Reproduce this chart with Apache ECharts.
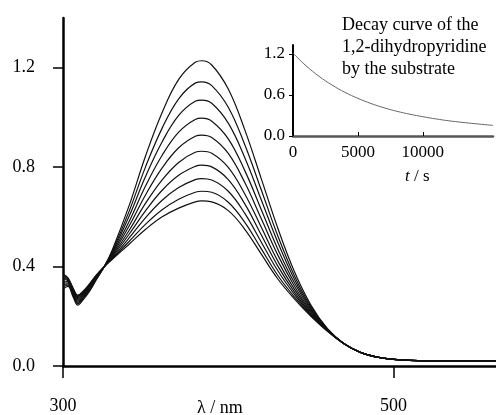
<!DOCTYPE html>
<html>
<head>
<meta charset="utf-8">
<script src="https://cdn.jsdelivr.net/npm/echarts@6/dist/echarts.min.js"></script>
<style>
  html, body { margin: 0; padding: 0; background: #fff; }
  #chart { width: 496px; height: 415px; }
</style>
</head>
<body>
<div id="chart"></div>
<script>
// wavelength grid (nm) shared by all scans
const wavelengths = [300, 303, 306, 309, 312, 316, 320, 325, 330, 340, 350, 360, 370, 380, 384, 390, 400, 410, 420, 430, 440, 450, 460, 470, 480, 490, 500, 520, 540, 562];

// absorbance of each scan, first (highest) to last
const scan1 = [0.31, 0.32, 0.28, 0.245, 0.265, 0.30, 0.345, 0.40, 0.47, 0.645, 0.846, 1.02, 1.153, 1.222, 1.228, 1.211, 1.114, 0.95, 0.753, 0.554, 0.38, 0.245, 0.15, 0.09, 0.055, 0.036, 0.027, 0.021, 0.02, 0.02];
const scan2 = [0.319, 0.325, 0.285, 0.251, 0.27, 0.305, 0.348, 0.40, 0.464, 0.622, 0.802, 0.957, 1.075, 1.138, 1.143, 1.128, 1.041, 0.89, 0.708, 0.523, 0.363, 0.238, 0.149, 0.09, 0.055, 0.036, 0.027, 0.021, 0.02, 0.02];
const scan3 = [0.327, 0.33, 0.29, 0.256, 0.275, 0.308, 0.351, 0.40, 0.459, 0.602, 0.763, 0.902, 1.008, 1.065, 1.07, 1.057, 0.977, 0.838, 0.668, 0.497, 0.349, 0.232, 0.147, 0.09, 0.055, 0.036, 0.027, 0.021, 0.02, 0.02];
const scan4 = [0.335, 0.334, 0.294, 0.261, 0.279, 0.312, 0.353, 0.40, 0.454, 0.581, 0.725, 0.848, 0.941, 0.992, 0.997, 0.985, 0.914, 0.786, 0.629, 0.47, 0.335, 0.227, 0.146, 0.09, 0.055, 0.036, 0.027, 0.021, 0.02, 0.02];
const scan5 = [0.342, 0.339, 0.299, 0.266, 0.284, 0.316, 0.356, 0.40, 0.449, 0.563, 0.689, 0.797, 0.878, 0.924, 0.929, 0.919, 0.855, 0.738, 0.592, 0.446, 0.322, 0.221, 0.145, 0.09, 0.055, 0.036, 0.027, 0.021, 0.02, 0.02];
const scan6 = [0.349, 0.343, 0.303, 0.271, 0.288, 0.319, 0.358, 0.40, 0.444, 0.545, 0.655, 0.749, 0.819, 0.86, 0.864, 0.856, 0.799, 0.692, 0.558, 0.422, 0.309, 0.216, 0.144, 0.09, 0.055, 0.036, 0.027, 0.021, 0.02, 0.02];
const scan7 = [0.355, 0.346, 0.306, 0.275, 0.291, 0.322, 0.36, 0.40, 0.44, 0.53, 0.625, 0.707, 0.767, 0.803, 0.808, 0.801, 0.75, 0.652, 0.527, 0.402, 0.298, 0.211, 0.143, 0.09, 0.055, 0.036, 0.027, 0.021, 0.02, 0.02];
const scan8 = [0.36, 0.349, 0.309, 0.279, 0.294, 0.325, 0.362, 0.40, 0.436, 0.515, 0.597, 0.667, 0.718, 0.75, 0.754, 0.748, 0.703, 0.614, 0.498, 0.383, 0.288, 0.207, 0.142, 0.09, 0.055, 0.036, 0.027, 0.021, 0.02, 0.02];
const scan9 = [0.366, 0.353, 0.313, 0.282, 0.298, 0.328, 0.364, 0.40, 0.433, 0.501, 0.571, 0.629, 0.671, 0.699, 0.703, 0.699, 0.659, 0.578, 0.471, 0.364, 0.278, 0.203, 0.141, 0.09, 0.055, 0.036, 0.027, 0.021, 0.02, 0.02];
const scan10 = [0.37, 0.355, 0.315, 0.285, 0.30, 0.33, 0.365, 0.40, 0.43, 0.49, 0.55, 0.60, 0.635, 0.66, 0.664, 0.66, 0.625, 0.55, 0.45, 0.35, 0.27, 0.20, 0.14, 0.09, 0.055, 0.036, 0.027, 0.021, 0.02, 0.02];
const scans = [scan1, scan2, scan3, scan4, scan5, scan6, scan7, scan8, scan9, scan10];

// inset: decay of the 384 nm band
const decayTime = [0, 1000, 2000, 3000, 4000, 5000, 6000, 7000, 8000, 9000, 10000, 11000, 12000, 13000, 14000, 15000, 15400];
const decayAbs = [1.21, 1.027, 0.873, 0.745, 0.638, 0.55, 0.475, 0.413, 0.361, 0.318, 0.282, 0.25, 0.222, 0.20, 0.18, 0.162, 0.155];

const mainYTicks = [0, 0.4, 0.8, 1.2];
const mainXTicks = [300, 500];
const insetYTicks = [0, 0.6, 1.2];
const insetXTicks = [0, 5000, 10000];

const serif = '"Liberation Serif", "DejaVu Serif", serif';

const chart = echarts.init(document.getElementById('chart'));

const pair = (xs, ys) => xs.map((x, i) => [x, ys[i]]);

const option = {
  animation: false,
  grid: [
    { left: 63, top: 18, width: 433, height: 350 },
    { left: 293, top: 45, width: 200, height: 91 },
  ],
  xAxis: [
    {
      type: 'value', gridIndex: 0, min: 300, max: 562,
      axisLine: { lineStyle: { color: '#000', width: 2.5 } },
      axisTick: { customValues: mainXTicks, length: 12, lineStyle: { color: '#000', width: 1.5 } },
      axisLabel: { customValues: mainXTicks, margin: 31, color: '#000', fontSize: 18, fontFamily: serif },
      splitLine: { show: false },
    },
    {
      type: 'value', gridIndex: 1, min: 0, max: 15400,
      axisLine: { lineStyle: { color: '#555', width: 2.5 } },
      axisTick: { customValues: insetXTicks, inside: true, length: 4, lineStyle: { color: '#000', width: 1 } },
      axisLabel: {
        customValues: insetXTicks, margin: 8, color: '#000', fontSize: 17, fontFamily: serif,
        formatter: (v) => String(v),
      },
      splitLine: { show: false },
    },
  ],
  yAxis: [
    {
      type: 'value', gridIndex: 0, min: 0, max: 1.4,
      axisLine: { show: true, lineStyle: { color: '#000', width: 2.5 } },
      axisTick: { show: true, customValues: mainYTicks, length: 10, lineStyle: { color: '#000', width: 1.5 } },
      axisLabel: {
        customValues: mainYTicks, margin: 28, color: '#000', fontSize: 18, fontFamily: serif,
        formatter: (v) => v.toFixed(1),
      },
      splitLine: { show: false },
    },
    {
      type: 'value', gridIndex: 1, min: 0, max: 1.33,
      axisLine: { show: true, lineStyle: { color: '#000', width: 2 } },
      axisTick: { show: true, customValues: insetYTicks, length: 4, lineStyle: { color: '#000', width: 1 } },
      axisLabel: {
        customValues: insetYTicks, margin: 8, color: '#000', fontSize: 17, fontFamily: serif,
        formatter: (v) => v.toFixed(1),
      },
      splitLine: { show: false },
    },
  ],
  graphic: [
    {
      type: 'text', left: 197, top: 399,
      style: { text: 'λ / nm', fill: '#000', font: '18px ' + serif },
    },
    {
      type: 'text', left: 342, top: 14,
      style: {
        text: 'Decay curve of the\n1,2-dihydropyridine\nby the substrate',
        fill: '#000', font: '18px ' + serif, lineHeight: 22,
      },
    },
    {
      type: 'text', left: 405, top: 168,
      style: {
        text: '{i|t} / s',
        rich: { i: { fontStyle: 'italic', fontSize: 17, fontFamily: serif, fill: '#000' } },
        fill: '#000', font: '17px ' + serif,
      },
    },
  ],
  series: [
    ...scans.map((s, i) => ({
      name: 'scan ' + (i + 1),
      type: 'line',
      xAxisIndex: 0, yAxisIndex: 0,
      data: pair(wavelengths, s),
      showSymbol: false,
      smooth: 0.4,
      lineStyle: { color: '#111', width: 1.2 },
      z: 2,
    })),
    {
      name: 'decay',
      type: 'line',
      xAxisIndex: 1, yAxisIndex: 1,
      data: pair(decayTime, decayAbs),
      showSymbol: false,
      smooth: 0.4,
      lineStyle: { color: '#666', width: 1 },
    },
  ],
};

chart.setOption(option);
</script>
</body>
</html>
